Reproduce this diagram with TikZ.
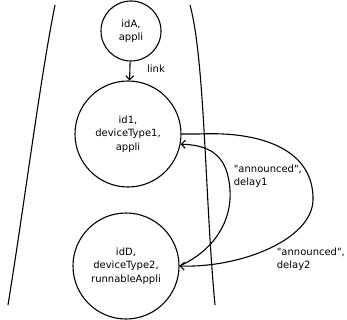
\documentclass[tikz,border=0pt]{standalone}
\usepackage{fontspec}
\newfontfamily\diafont{DejaVu Sans}
\usetikzlibrary{arrows.meta}
\begin{document}
\begin{tikzpicture}[x=1pt,y=-1pt,line width=1.1pt,
    every node/.style={font=\diafont\fontsize{10}{13.5}\selectfont},
    entity/.style={draw,circle,align=center,inner sep=0pt},
    arr/.style={-{Straight Barb[length=4pt,width=8pt]}}]
    \useasboundingbox (0,0) rectangle (347,320);
    % boundary
    \draw (55,5) .. controls (40,80) and (25,200) .. (8,305);
    \draw (190,5) .. controls (205,60) and (205,200) .. (215,305);
    % entities
    \node[entity,minimum size=60pt] (nA) at (131,31) {idA,\\appli};
    \node[entity,minimum size=106pt] (n1) at (128,134) {id1,\\deviceType1,\\appli};
    \node[entity,minimum size=106pt] (nD) at (126,266) {idD,\\deviceType2,\\runnableAppli};
    % links
    \draw[arr] (nA) -- (n1);
    \node at (156,69) (lnk) {link};
    \draw[arr] (n1.east) -- ++(17,0) .. controls (262,131) and (314,150) .. (313,200)
        .. controls (312,240) and (240,268) .. (nD.east);
    \draw[arr] (nD.east) .. controls (215,250) and (232,220) .. (230,190)
        .. controls (228,160) and (215,145) .. (n1.-11);
    \node[anchor=west,align=left] (ann1) at (230,176) {"announced",\\delay1};
    \node[anchor=west,align=left] (ann2) at (273,259) {"announced",\\delay2};
\end{tikzpicture}
\end{document}
